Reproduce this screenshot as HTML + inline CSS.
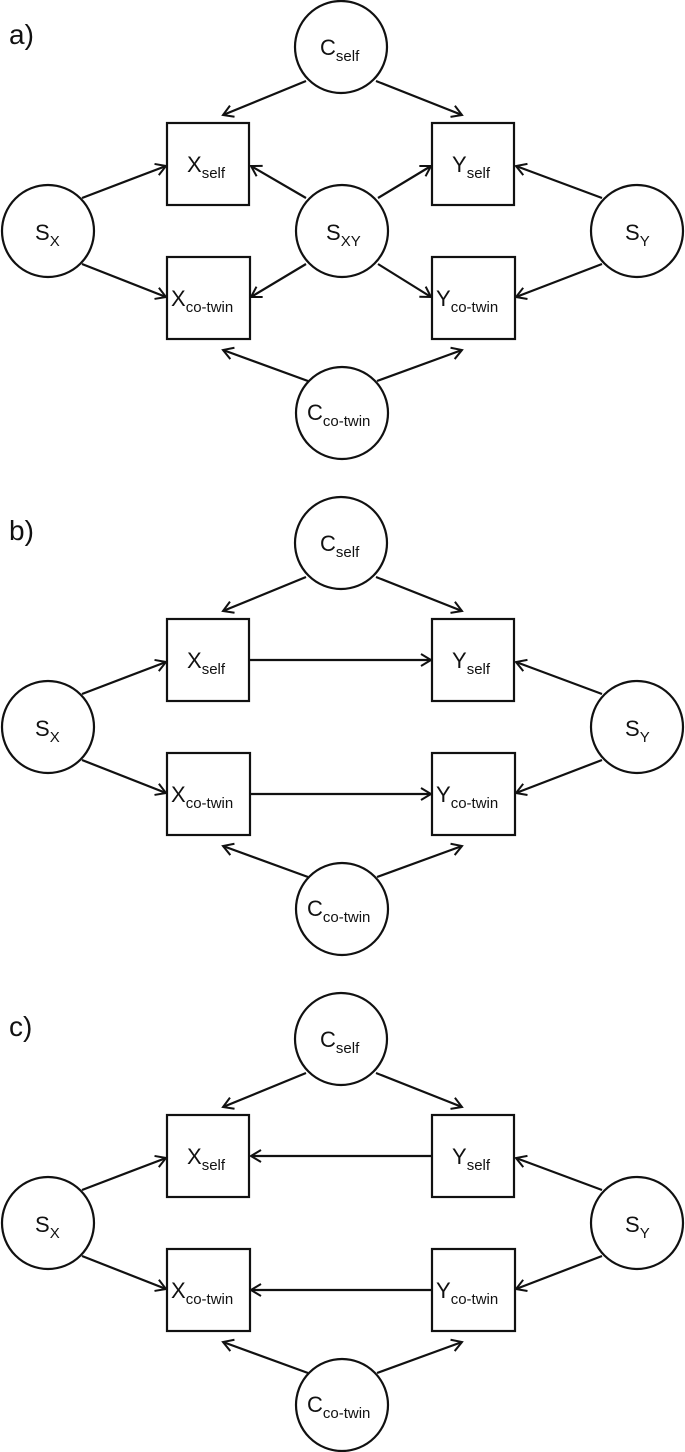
<!DOCTYPE html>
<html><head><meta charset="utf-8"><style>
html,body{margin:0;padding:0;background:#fff;}
svg{display:block;}
text{font-family:"Liberation Sans",sans-serif;fill:#111;}
.m{font-size:22px;}
.s{font-size:15px;}
</style></head><body>
<svg width="685" height="1452" viewBox="0 0 685 1452" xmlns="http://www.w3.org/2000/svg">
<defs>
<marker id="a" markerWidth="14" markerHeight="14" refX="11" refY="7" orient="auto" markerUnits="userSpaceOnUse">
<path d="M1,1 L11,7 L1,13" fill="none" stroke="#111" stroke-width="2"/>
</marker>
<g id="base" stroke="#111" stroke-width="2.2" fill="#fff">
<circle cx="341" cy="47" r="46"/>
<circle cx="48" cy="231" r="46"/>
<circle cx="637" cy="231" r="46"/>
<circle cx="342" cy="413" r="46"/>
<rect x="167" y="123" width="82" height="82"/>
<rect x="432" y="123" width="82" height="82"/>
<rect x="167" y="257" width="83" height="82"/>
<rect x="432" y="257" width="83" height="82"/>
<g fill="none" marker-end="url(#a)">
<line x1="306" y1="81" x2="223" y2="115"/>
<line x1="376" y1="81" x2="462" y2="115"/>
<line x1="82" y1="198" x2="166" y2="166"/>
<line x1="82" y1="264" x2="166" y2="297"/>
<line x1="602" y1="198" x2="516" y2="166"/>
<line x1="602" y1="264" x2="516" y2="297"/>
<line x1="308" y1="381" x2="223" y2="350"/>
<line x1="377" y1="381" x2="462" y2="350"/>
</g>
</g>
<g id="labels">
<text x="320" y="55" class="m">C<tspan class="s" dy="6">self</tspan></text>
<text x="35" y="240" class="m">S<tspan class="s" dy="6">X</tspan></text>
<text x="625" y="240" class="m">S<tspan class="s" dy="6">Y</tspan></text>
<text x="307" y="420" class="m">C<tspan class="s" dy="6">co-twin</tspan></text>
<text x="187" y="172" class="m">X<tspan class="s" dy="6">self</tspan></text>
<text x="452" y="172" class="m">Y<tspan class="s" dy="6">self</tspan></text>
<text x="171" y="306" class="m">X<tspan class="s" dy="6">co-twin</tspan></text>
<text x="436" y="306" class="m">Y<tspan class="s" dy="6">co-twin</tspan></text>
</g>
</defs>

<!-- a -->
<text x="9" y="44" style="font-size:28px">a)</text>
<use href="#base"/>
<use href="#labels"/>
<g stroke="#111" stroke-width="2.2">
<circle cx="342" cy="231" r="46" fill="#fff"/>
<g fill="none" marker-end="url(#a)">
<line x1="306" y1="198" x2="251" y2="166"/>
<line x1="306" y1="264" x2="251" y2="297"/>
<line x1="378" y1="198" x2="431" y2="166"/>
<line x1="378" y1="264" x2="431" y2="297"/>
</g>
</g>
<text x="326" y="240" class="m">S<tspan class="s" dy="6">XY</tspan></text>

<!-- b -->
<text x="9" y="540" style="font-size:28px">b)</text>
<g transform="translate(0,496)">
<use href="#base"/>
<use href="#labels"/>
<g stroke="#111" stroke-width="2.2" fill="none" marker-end="url(#a)">
<line x1="250" y1="164" x2="431" y2="164"/>
<line x1="251" y1="298" x2="431" y2="298"/>
</g>
</g>

<!-- c -->
<text x="9" y="1036" style="font-size:28px">c)</text>
<g transform="translate(0,992)">
<use href="#base"/>
<use href="#labels"/>
<g stroke="#111" stroke-width="2.2" fill="none" marker-end="url(#a)">
<line x1="431" y1="164" x2="251" y2="164"/>
<line x1="431" y1="298" x2="251" y2="298"/>
</g>
</g>
</svg>
</body></html>
